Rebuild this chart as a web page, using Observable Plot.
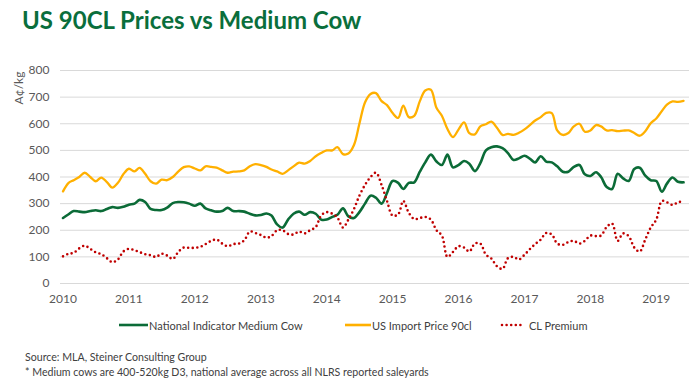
<!DOCTYPE html>
<html>
<head>
<meta charset="utf-8">
<script src="https://cdn.jsdelivr.net/npm/d3@7"></script>
<script src="https://cdn.jsdelivr.net/npm/@observablehq/plot@0.6"></script>
<style>
  html, body { margin: 0; padding: 0; background: #fff; }
  #wrap { position: relative; width: 700px; height: 387px; font-family: Lato, "Open Sans", sans-serif; overflow: hidden; }
  #title { position: absolute; left: 22px; top: 8px; font-size: 24px; line-height: 24px; font-weight: 700; color: #0A6E3C; white-space: nowrap; }
  #chart { position: absolute; left: 0; top: 55px; }
  #ylabel { position: absolute; left: 18px; top: 88px; transform: translate(-50%, -50%) rotate(-90deg); font-size: 12px; color: #595959; white-space: nowrap; }
  .leg { position: absolute; top: 318px; height: 14px; display: flex; align-items: center; font-size: 11px; color: #404040; white-space: nowrap; }
  .cap { position: absolute; left: 25px; font-size: 10.6px; color: #404040; white-space: nowrap; }
</style>
</head>
<body>
<div id="wrap">
  <div id="title">US 90CL Prices vs Medium Cow</div>
  <div id="ylabel">A¢/kg</div>
  <div id="chart"></div>
  <div id="legend"></div>
  <div class="cap" style="top:351px">Source: MLA, Steiner Consulting Group</div>
  <div class="cap" style="top:366px">* Medium cows are 400-520kg D3, national average across all NLRS reported saleyards</div>
</div>
<script>
// Monthly series, Jan 2010 onward (A¢/kg)
const seriesNames = ["National Indicator Medium Cow", "US Import Price 90cl", "CL Premium"];
const seriesColors = ["#0B6B37", "#FFB000", "#C00000"];
const yTicks = [0, 100, 200, 300, 400, 500, 600, 700, 800];
const yearTicks = [2010, 2011, 2012, 2013, 2014, 2015, 2016, 2017, 2018, 2019];

const mediumCow = [
  246,260,272,270,268,272,275,272,280,287,284,288,
  296,300,314,306,280,276,276,285,302,306,305,300,
  292,300,282,275,270,272,284,272,272,270,262,256,
  257,263,255,222,210,240,262,270,258,268,262,240,
  240,250,258,282,252,246,268,300,330,322,300,340,
  385,378,355,378,380,420,455,484,458,445,484,436,
  445,460,450,422,452,500,512,515,508,490,464,470,
  480,468,455,478,458,455,440,420,420,438,445,410,
  404,418,400,362,355,412,395,385,430,435,405,388,
  385,345,375,398,382,380
];
const usImport90cl = [
  346,378,388,400,416,400,384,398,381,360,378,410,
  431,421,434,412,384,375,390,388,400,420,437,440,
  432,425,440,438,435,425,416,420,421,425,440,448,
  445,438,428,421,412,425,440,454,450,460,478,490,
  500,500,512,486,488,520,600,680,712,715,685,670,
  640,622,668,625,630,685,725,728,660,630,580,550,
  578,605,565,560,590,598,608,585,558,562,558,566,
  579,596,612,625,641,640,575,558,565,590,600,570,
  575,595,590,575,576,572,574,575,565,555,572,602,
  620,648,672,684,682,686
];
const clPremium = [
  102,112,115,132,142,130,117,110,95,80,90,120,
  130,125,118,110,106,100,112,105,92,118,135,134,
  134,138,148,160,165,150,140,148,150,162,195,190,
  182,172,178,200,200,186,184,195,188,200,212,255,
  268,262,248,210,240,280,330,370,400,416,370,310,
  255,260,310,265,242,246,250,240,200,180,100,118,
  140,135,120,150,150,108,94,65,55,95,100,90,
  108,130,148,165,190,184,150,145,156,160,150,160,
  180,178,180,212,225,160,188,178,135,120,165,210,
  240,310,305,295,305,308
];

const rows = mediumCow.map((v, i) => ({
  date: new Date(Date.UTC(2010, i, 1)),
  cow: v, us: usImport90cl[i], prem: clPremium[i]
}));
const tickDates = yearTicks.map(y => new Date(Date.UTC(y, 0, 1)));

const chart = Plot.plot({
  width: 700,
  height: 255,
  marginTop: 15,
  marginBottom: 27,
  marginLeft: 60,
  marginRight: 11,
  style: { fontFamily: "Lato, 'Open Sans', sans-serif", fontSize: "12px", color: "#595959", background: "transparent" },
  x: {
    type: "utc",
    domain: [new Date(Date.UTC(2009, 11, 18)), new Date(Date.UTC(2019, 6, 4))],
    ticks: tickDates,
    tickFormat: d3.utcFormat("%Y"),
    tickSize: 0,
    tickPadding: 11,
    label: null
  },
  y: {
    domain: [0, 800],
    ticks: yTicks,
    tickSize: 0,
    tickPadding: 11,
    label: null
  },
  marks: [
    Plot.ruleY(yTicks, { stroke: "#D9D9D9", strokeWidth: 1 }),
    Plot.line(rows, { x: "date", y: "cow", stroke: seriesColors[0], strokeWidth: 2.6, curve: "catmull-rom" }),
    Plot.line(rows, { x: "date", y: "us", stroke: seriesColors[1], strokeWidth: 2.3, curve: "catmull-rom" }),
    Plot.line(rows, { x: "date", y: "prem", stroke: seriesColors[2], strokeWidth: 2.6, strokeDasharray: "0 4.6", strokeLinecap: "round", curve: "catmull-rom" })
  ]
});
document.getElementById("chart").appendChild(chart);

// Legend
const legendPos = [
  { sx: 119, sw: 29 },
  { sx: 345, sw: 26 },
  { sx: 500, sw: 23 }
];
const legend = document.getElementById("legend");
seriesNames.forEach((name, i) => {
  const item = document.createElement("div");
  item.className = "leg";
  item.style.left = legendPos[i].sx + "px";
  const w = legendPos[i].sw;
  const dash = i === 2 ? ' stroke-dasharray="0 4.6" stroke-linecap="round"' : '';
  const x1 = i === 2 ? 2 : 0;
  item.innerHTML = `<svg width="${w}" height="14" style="display:block"><line x1="${x1}" y1="7" x2="${w}" y2="7" stroke="${seriesColors[i]}" stroke-width="2.6"${dash}/></svg><span style="margin-left:${i === 2 ? 6 : 1}px">${name}</span>`;
  legend.appendChild(item);
});
</script>
</body>
</html>
